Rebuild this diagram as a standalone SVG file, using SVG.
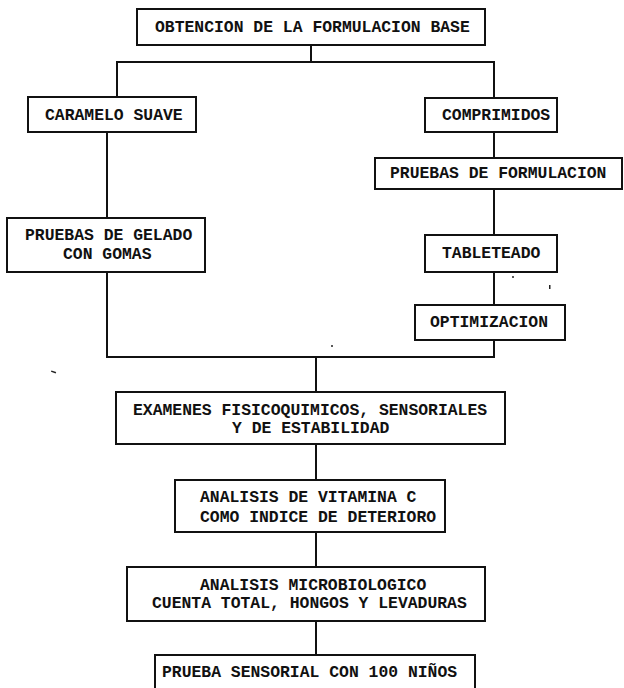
<svg xmlns="http://www.w3.org/2000/svg" width="624" height="688" viewBox="0 0 624 688">
<style>
.box{fill:#fff;stroke:#111;stroke-width:2}
.t{font-family:"Liberation Mono","Courier New",monospace;font-size:16.4px;font-weight:bold;fill:#111}
.c{fill:none;stroke:#111;stroke-width:2}
.n{fill:#222}
</style>
<rect width="624" height="688" fill="#fff"/>
<g id="connectors">
<polyline class="c" points="311,45 311,62"/>
<polyline class="c" points="117,97 117,62 494,62 494,98"/>
<polyline class="c" points="494,132 494,158"/>
<polyline class="c" points="494,189 494,235"/>
<polyline class="c" points="494,272 494,305"/>
<polyline class="c" points="107,132 107,218"/>
<polyline class="c" points="107,272 107,357 494,357 494,340"/>
<polyline class="c" points="316,357 316,392"/>
<polyline class="c" points="316,444 316,480"/>
<polyline class="c" points="316,532 316,567"/>
<polyline class="c" points="316,621 316,655"/>
</g>
<g id="n1"><rect class="box" x="137" y="9" width="348" height="36"/><text class="t" x="155" y="32">OBTENCION DE LA FORMULACION BASE</text></g>
<g id="n2"><rect class="box" x="28" y="97" width="168" height="35"/><text class="t" x="45" y="120">CARAMELO SUAVE</text></g>
<g id="n3"><rect class="box" x="425" y="98" width="132" height="34"/><text class="t" x="442" y="120">COMPRIMIDOS</text></g>
<g id="n4"><rect class="box" x="375" y="158" width="247" height="31"/><text class="t" x="390" y="178">PRUEBAS DE FORMULACION</text></g>
<g id="n5"><rect class="box" x="7" y="218" width="198" height="54"/><text class="t" x="25" y="240">PRUEBAS DE GELADO</text><text class="t" x="63" y="259">CON GOMAS</text></g>
<g id="n6"><rect class="box" x="425" y="235" width="132" height="37"/><text class="t" x="442" y="258">TABLETEADO</text></g>
<g id="n7"><rect class="box" x="415" y="305" width="150" height="35"/><text class="t" x="430" y="327">OPTIMIZACION</text></g>
<g id="n8"><rect class="box" x="116" y="392" width="389" height="52"/><text class="t" x="133" y="415">EXAMENES FISICOQUIMICOS, SENSORIALES</text><text class="t" x="232" y="433">Y DE ESTABILIDAD</text></g>
<g id="n9"><rect class="box" x="175" y="480" width="270" height="52"/><text class="t" x="200" y="502">ANALISIS DE VITAMINA C</text><text class="t" x="200" y="522">COMO INDICE DE DETERIORO</text></g>
<g id="n10"><rect class="box" x="127" y="567" width="358" height="54"/><text class="t" x="200" y="590">ANALISIS MICROBIOLOGICO</text><text class="t" x="152" y="608">CUENTA TOTAL, HONGOS Y LEVADURAS</text></g>
<g id="n11"><rect class="box" x="155" y="655" width="320" height="40"/><text class="t" x="162" y="677">PRUEBA SENSORIAL CON 100 NIÑOS</text></g>
<g id="specks">
<circle class="n" cx="513" cy="277" r="1"/>
<rect class="n" x="549" y="285" width="1.5" height="4"/>
<circle class="n" cx="332" cy="346" r="1"/>
<rect class="n" x="51" y="371" width="5" height="1.5" transform="rotate(20 53 372)"/>
</g>
</svg>
